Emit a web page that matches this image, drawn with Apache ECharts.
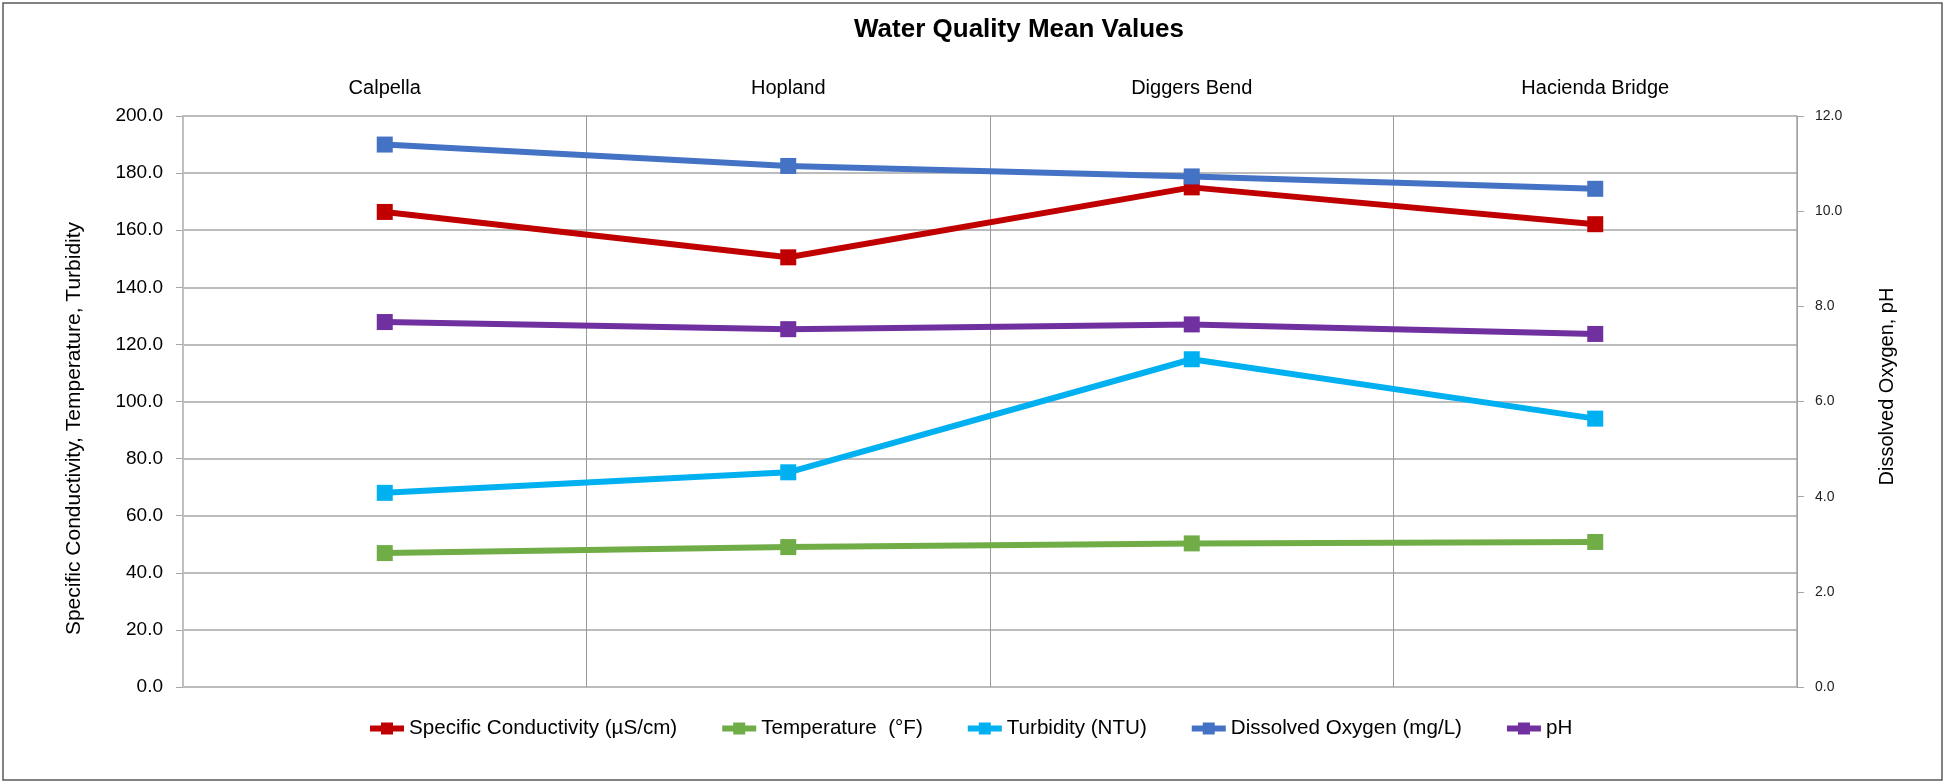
<!DOCTYPE html>
<html>
<head>
<meta charset="utf-8">
<script src="https://cdn.jsdelivr.net/npm/echarts@6/dist/echarts.min.js"></script>
<style>
html,body{margin:0;padding:0;background:#fff;}
#chart{width:1953px;height:782px;}
</style>
</head>
<body>
<div id="chart"></div>
<script>
const sites = ['Calpella', 'Hopland', 'Diggers Bend', 'Hacienda Bridge'];
const specificConductivity = [166.4, 150.5, 175.0, 162.1];
const temperature = [46.9, 49.0, 50.3, 50.8];
const turbidity = [68.0, 75.2, 114.8, 94.0];
const dissolvedOxygen = [11.40, 10.95, 10.73, 10.47];
const pH = [7.67, 7.52, 7.62, 7.42];
const seriesNames = ['Specific Conductivity (µS/cm)', 'Temperature  (°F)', 'Turbidity (NTU)', 'Dissolved Oxygen (mg/L)', 'pH'];

const FONT = 'Liberation Sans, Arial, sans-serif';
const chart = echarts.init(document.getElementById('chart'), null, {renderer: 'canvas'});

function mkSeries(name, data, color, axis) {
  return {
    name: name,
    type: 'line',
    data: data,
    yAxisIndex: axis,
    symbol: 'rect',
    symbolSize: 16,
    showSymbol: true,
    lineStyle: {width: 6, color: color},
    itemStyle: {color: color},
    emphasis: {disabled: true},
    animation: false
  };
}

chart.setOption({
  backgroundColor: '#ffffff',
  animation: false,
  textStyle: {fontFamily: FONT},
  title: {
    text: 'Water Quality Mean Values',
    left: 1014,
    textAlign: 'center',
    top: 12,
    textStyle: {fontFamily: FONT, fontSize: 26, fontWeight: 'bold', color: '#000'}
  },
  graphic: [{
    type: 'rect',
    shape: {x: 3, y: 3, width: 1939, height: 777},
    style: {fill: 'none', stroke: '#595959', lineWidth: 1.5},
    silent: true
  }],
  legend: {
    top: 713,
    left: 362,
    itemWidth: 34,
    itemHeight: 15,
    itemGap: 42,
    lineStyle: {width: 6},
    textStyle: {fontFamily: FONT, fontSize: 20.6, color: '#000'},
    data: seriesNames
  },
  grid: {left: 183, right: 156, top: 116, bottom: 95, containLabel: false},
  xAxis: {
    type: 'category',
    data: sites,
    position: 'top',
    boundaryGap: true,
    axisLine: {show: false},
    axisTick: {show: false},
    axisLabel: {fontFamily: FONT, fontSize: 20, color: '#000', margin: 18},
    splitLine: {show: true, lineStyle: {color: '#999999', width: 1}}
  },
  yAxis: [{
    type: 'value',
    min: 0, max: 200, interval: 20,
    name: 'Specific Conductivity, Temperature, Turbidity',
    nameLocation: 'middle',
    nameGap: 98,
    nameRotate: 90,
    nameTextStyle: {fontFamily: FONT, fontSize: 21, color: '#000', padding: [0, 54, 0, 0]},
    axisLine: {show: true, lineStyle: {color: '#BFBFBF', width: 2}},
    axisTick: {show: true, length: 7, lineStyle: {color: '#A6A6A6'}},
    axisLabel: {fontFamily: FONT, fontSize: 19, color: '#000', margin: 20,
      formatter: v => v.toFixed(1)},
    splitLine: {show: true, lineStyle: {color: '#A6A6A6', width: 1.5}}
  }, {
    type: 'value',
    min: 0, max: 12, interval: 2,
    name: 'Dissolved Oxygen, pH',
    nameLocation: 'middle',
    nameGap: 80,
    nameRotate: 90,
    nameTextStyle: {fontFamily: FONT, fontSize: 20, color: '#000', padding: [0, 0, 0, 30]},
    axisLine: {show: true, lineStyle: {color: '#A6A6A6', width: 1.5}},
    axisTick: {show: true, length: 7, lineStyle: {color: '#A6A6A6'}},
    axisLabel: {fontFamily: FONT, fontSize: 14, color: '#222', margin: 18,
      formatter: v => v.toFixed(1)},
    splitLine: {show: false}
  }],
  series: [
    mkSeries(seriesNames[0], specificConductivity, '#C00000', 0),
    mkSeries(seriesNames[1], temperature, '#70AD47', 0),
    mkSeries(seriesNames[2], turbidity, '#00B0F0', 0),
    mkSeries(seriesNames[3], dissolvedOxygen, '#4472C4', 1),
    mkSeries(seriesNames[4], pH, '#7030A0', 1)
  ]
});
</script>
</body>
</html>
